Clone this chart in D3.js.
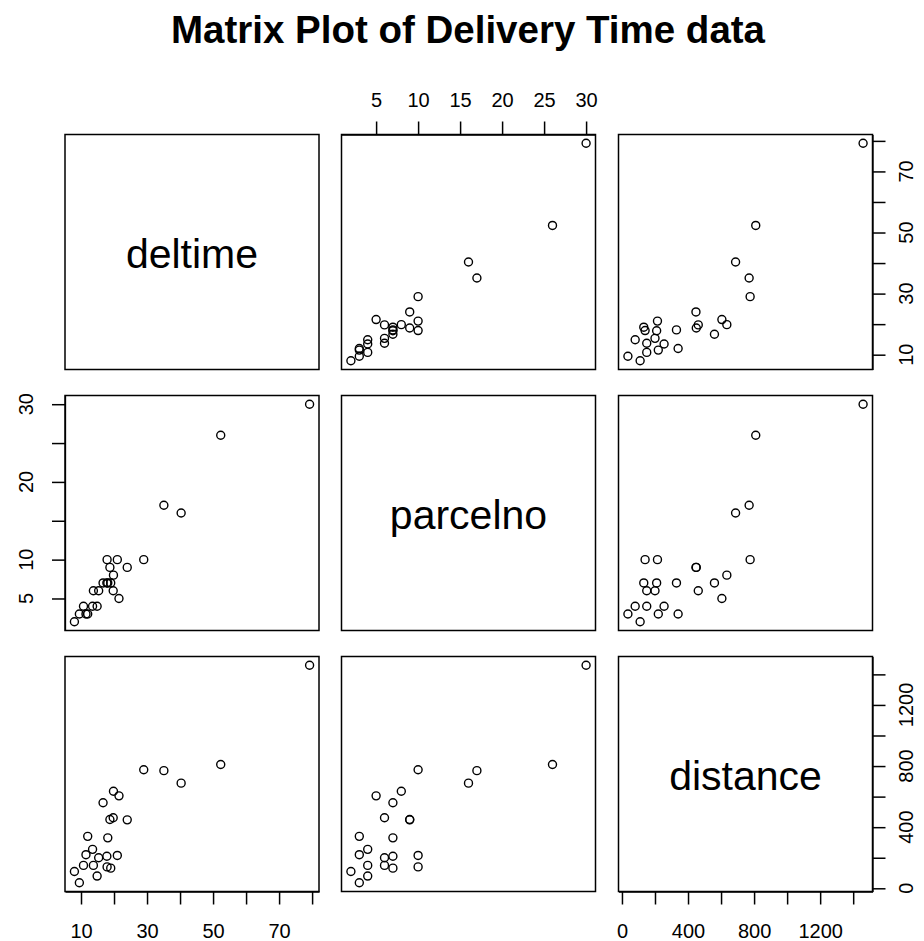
<!DOCTYPE html>
<html>
<head>
<meta charset="utf-8">
<script src="https://cdn.jsdelivr.net/npm/d3@7"></script>
<style>
  html, body { margin: 0; padding: 0; background: #fff; }
  svg { display: block; font-family: "Liberation Sans", Arial, sans-serif; }
</style>
</head>
<body>
<svg id="chart" width="924" height="941"></svg>
<script>
// ---- data (Delivery Time data) ----
const varNames = ["deltime", "parcelno", "distance"];
const deltime  = [16.68, 11.50, 12.03, 14.88, 13.75, 18.11, 8.00, 17.83, 79.24, 21.50, 40.33, 21.00, 13.50, 19.75, 24.00, 29.00, 15.35, 19.00, 9.50, 35.10, 17.90, 52.32, 18.75, 19.83, 10.75];
const parcelno = [7, 3, 3, 4, 6, 7, 2, 7, 30, 5, 16, 10, 4, 6, 9, 10, 6, 7, 3, 17, 10, 26, 9, 8, 4];
const distance = [560, 220, 340, 80, 150, 330, 110, 210, 1460, 605, 688, 215, 255, 462, 448, 776, 200, 132, 36, 770, 140, 810, 450, 635, 150];

// tick positions and the labels that are printed
const deltimeTicks   = [10, 20, 30, 40, 50, 60, 70, 80];
const deltimeLabels  = [10, 30, 50, 70];
const parcelTicks    = [5, 10, 15, 20, 25, 30];
const parcelTopLabels  = [5, 10, 15, 20, 25, 30];
const parcelLeftLabels = [5, 10, 20, 30];
const distanceTicks  = [0, 200, 400, 600, 800, 1000, 1200, 1400];
const distanceLabels = [0, 400, 800, 1200];

const title = "Matrix Plot of Delivery Time data";

// ---- layout ----
const colX = [65, 341.5, 618.5], panelW = 254;
const rowY = [134.5, 395.5, 656.5], panelH = 235;
const tickLen = 13;

const series = [deltime, parcelno, distance];

function padDomain(arr) {
  const [lo, hi] = d3.extent(arr);
  const e = (hi - lo) * 0.04;
  return [lo - e, hi + e];
}
const domains = series.map(padDomain);
const xScales = domains.map((d, j) => d3.scaleLinear().domain(d).range([colX[j], colX[j] + panelW]));
const yScales = domains.map((d, i) => d3.scaleLinear().domain(d).range([rowY[i] + panelH, rowY[i]]));

const svg = d3.select("#chart");
const fontTick = 20;

svg.append("text")
  .attr("x", 468).attr("y", 43)
  .attr("text-anchor", "middle")
  .attr("font-weight", "bold")
  .attr("font-size", 38.5)
  .attr("fill", "#000")
  .text(title);

for (let i = 0; i < 3; i++) {
  for (let j = 0; j < 3; j++) {
    const g = svg.append("g");
    if (i === j) {
      g.append("text")
        .attr("x", colX[j] + panelW / 2)
        .attr("y", rowY[i] + panelH / 2)
        .attr("dy", "0.38em")
        .attr("text-anchor", "middle")
        .attr("font-size", 41)
        .attr("fill", "#000")
        .text(varNames[i]);
    } else {
      const xs = series[j], ys = series[i];
      g.selectAll("circle").data(d3.range(xs.length)).join("circle")
        .attr("cx", k => xScales[j](xs[k]))
        .attr("cy", k => yScales[i](ys[k]))
        .attr("r", 4)
        .attr("fill", "none")
        .attr("stroke", "#000")
        .attr("stroke-width", 1.4);
    }
    g.append("rect")
      .attr("x", colX[j]).attr("y", rowY[i])
      .attr("width", panelW).attr("height", panelH)
      .attr("fill", "none").attr("stroke", "#000").attr("stroke-width", 1.5);
  }
}

function styleAxis(g) {
  g.selectAll("path.domain").attr("stroke", "#000").attr("stroke-width", 1.3);
  g.selectAll(".tick line").attr("stroke", "#000").attr("stroke-width", 1.5);
  g.selectAll(".tick text").attr("fill", "#000").attr("font-size", fontTick)
    .attr("font-family", "'Liberation Sans', Arial, sans-serif");
}
const fmt = labels => v => labels.includes(v) ? String(v) : "";

// top axis: parcelno (column 2)
svg.append("g").attr("transform", `translate(0,${rowY[0]})`)
  .call(d3.axisTop(xScales[1]).tickValues(parcelTicks).tickFormat(fmt(parcelTopLabels))
    .tickSize(tickLen).tickSizeOuter(0).tickPadding(15))
  .call(styleAxis);

// bottom axes: deltime (col 1), distance (col 3)
const bottomY = rowY[2] + panelH;
svg.append("g").attr("transform", `translate(0,${bottomY})`)
  .call(d3.axisBottom(xScales[0]).tickValues(deltimeTicks).tickFormat(fmt(deltimeLabels))
    .tickSize(tickLen).tickSizeOuter(0).tickPadding(19))
  .call(styleAxis);
svg.append("g").attr("transform", `translate(0,${bottomY})`)
  .call(d3.axisBottom(xScales[2]).tickValues(distanceTicks).tickFormat(fmt(distanceLabels))
    .tickSize(tickLen).tickSizeOuter(0).tickPadding(19))
  .call(styleAxis);

// vertical axes with rotated labels
function vAxis(scale, tickVals, labels, xEdge, side, labelX) {
  const axisFn = side === "left" ? d3.axisLeft(scale) : d3.axisRight(scale);
  svg.append("g").attr("transform", `translate(${xEdge},0)`)
    .call(axisFn.tickValues(tickVals).tickFormat("").tickSize(tickLen).tickSizeOuter(0))
    .call(styleAxis);
  svg.append("g").selectAll("text").data(labels).join("text")
    .attr("transform", d => `translate(${labelX},${scale(d)}) rotate(-90)`)
    .attr("text-anchor", "middle")
    .attr("font-size", fontTick)
    .attr("fill", "#000")
    .text(d => String(d));
}
const rightX = colX[2] + panelW;
vAxis(yScales[0], deltimeTicks, deltimeLabels, rightX, "right", 913);
vAxis(yScales[1], parcelTicks, parcelLeftLabels, colX[0], "left", 33);
vAxis(yScales[2], distanceTicks, distanceLabels, rightX, "right", 913);
</script>
</body>
</html>
